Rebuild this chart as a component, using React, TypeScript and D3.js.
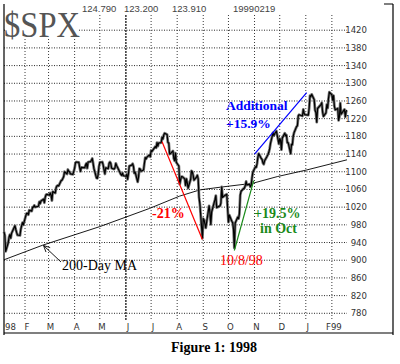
import React, { useEffect, useRef } from "react";
import * as d3 from "d3";

// daily S&P 500 closes, [day of month, close]
const jan98 = [[7, 964], [8, 956], [9, 920], [12, 939], [13, 952], [14, 958], [15, 950], [16, 961], [20, 978], [21, 970], [22, 963], [23, 957], [26, 956], [27, 970], [28, 978], [29, 985], [30, 980]];
const feb98 = [[2, 1001], [3, 1006], [4, 1006], [5, 1003], [6, 1013], [9, 1011], [10, 1020], [11, 1020], [12, 1024], [13, 1020], [17, 1022], [18, 1032], [19, 1028], [20, 1034], [23, 1038], [24, 1030], [25, 1042], [26, 1048], [27, 1049]];
const mar98 = [[2, 1047], [3, 1052], [4, 1047], [5, 1035], [6, 1055], [9, 1052], [10, 1064], [11, 1068], [12, 1069], [13, 1068], [16, 1080], [17, 1081], [18, 1085], [19, 1089], [20, 1100], [23, 1095], [24, 1105], [25, 1101], [26, 1100], [27, 1095], [30, 1094], [31, 1101]];
const apr98 = [[1, 1108], [2, 1120], [3, 1122], [6, 1121], [7, 1110], [8, 1101], [9, 1110], [13, 1109], [14, 1115], [15, 1119], [16, 1108], [17, 1122], [20, 1123], [21, 1126], [22, 1130], [23, 1119], [24, 1107], [27, 1086], [28, 1085], [29, 1094], [30, 1112]];
const may98 = [[1, 1121], [4, 1122], [5, 1115], [6, 1104], [7, 1095], [8, 1109], [11, 1107], [12, 1119], [13, 1122], [14, 1119], [15, 1108], [18, 1106], [19, 1109], [20, 1119], [21, 1114], [22, 1110], [26, 1094], [27, 1092], [28, 1097], [29, 1091]];
const jun98 = [[1, 1090], [2, 1094], [3, 1083], [4, 1095], [5, 1113], [8, 1115], [9, 1118], [10, 1112], [11, 1097], [12, 1099], [15, 1077], [16, 1088], [17, 1107], [18, 1106], [19, 1101], [22, 1104], [23, 1119], [24, 1132], [25, 1129], [26, 1133], [29, 1138], [30, 1134]];
const jul98 = [[1, 1148], [2, 1146], [6, 1157], [7, 1154], [8, 1166], [9, 1158], [10, 1165], [13, 1166], [14, 1178], [15, 1174], [16, 1183], [17, 1187], [20, 1184], [21, 1166], [22, 1165], [23, 1140], [24, 1141], [27, 1147], [28, 1130], [29, 1125], [30, 1142], [31, 1121]];
const aug98 = [[3, 1113], [4, 1072], [5, 1081], [6, 1089], [7, 1089], [10, 1084], [11, 1069], [12, 1084], [13, 1075], [14, 1063], [17, 1083], [18, 1102], [19, 1100], [20, 1092], [21, 1081], [24, 1088], [25, 1092], [26, 1084], [27, 1042], [28, 1027], [31, 950]];
const sep98 = [[1, 994], [2, 991], [3, 982], [4, 973], [8, 1023], [9, 1007], [10, 981], [11, 1009], [14, 1030], [15, 1037], [16, 1046], [17, 1019], [18, 1020], [21, 1023], [22, 1029], [23, 1066], [24, 1042], [25, 1044], [28, 1048], [29, 1049], [30, 1017]];
const oct98 = [[1, 986], [2, 1002], [5, 988], [6, 985], [7, 970], [8, 928], [9, 984], [12, 997], [13, 994], [14, 1005], [15, 1047], [16, 1056], [19, 1062], [20, 1063], [21, 1069], [22, 1078], [23, 1070], [26, 1072], [27, 1066], [28, 1069], [29, 1086], [30, 1099]];
const nov98 = [[2, 1111], [3, 1110], [4, 1118], [5, 1133], [6, 1141], [9, 1130], [10, 1128], [11, 1120], [12, 1117], [13, 1125], [16, 1135], [17, 1139], [18, 1144], [19, 1152], [20, 1164], [23, 1188], [24, 1182], [25, 1186], [27, 1192], [30, 1163]];
const dec98 = [[1, 1175], [2, 1171], [3, 1150], [4, 1176], [7, 1187], [8, 1181], [9, 1183], [10, 1166], [11, 1166], [14, 1141], [15, 1162], [16, 1161], [17, 1180], [18, 1188], [21, 1202], [22, 1204], [23, 1226], [24, 1229], [28, 1226], [29, 1241], [30, 1232], [31, 1229]];
const jan99 = [[4, 1228], [5, 1244], [6, 1272], [7, 1270], [8, 1275], [11, 1263], [12, 1239], [13, 1234], [14, 1212], [15, 1243], [19, 1252], [20, 1256], [21, 1235], [22, 1225], [25, 1233], [26, 1252], [27, 1244], [28, 1266], [29, 1280]];
const feb99 = [[1, 1274], [2, 1262], [3, 1272], [4, 1248], [5, 1240], [8, 1243], [9, 1216], [10, 1224], [11, 1255], [12, 1230], [16, 1241], [17, 1224], [18, 1237], [19, 1239]];

const monthBlocks: [number, number, number[][]][] = [
  [1998, 0, jan98], [1998, 1, feb98], [1998, 2, mar98], [1998, 3, apr98],
  [1998, 4, may98], [1998, 5, jun98], [1998, 6, jul98], [1998, 7, aug98],
  [1998, 8, sep98], [1998, 9, oct98], [1998, 10, nov98], [1998, 11, dec98],
  [1999, 0, jan99], [1999, 1, feb99],
];

// 200-day moving average
const maDates = ["1998-01-07", "1998-02-22", "1998-05-01", "1998-06-29", "1998-08-04", "1998-08-28", "1998-09-21", "1998-10-30", "1998-11-28", "1999-01-02", "1999-02-19"];
const maValues = [901, 934, 976, 1017, 1045, 1059, 1065, 1074, 1089, 1104, 1127];

const yTickValues = [780, 820, 860, 900, 940, 980, 1020, 1060, 1100, 1140, 1180, 1220, 1260, 1300, 1340, 1380, 1420];
const monthLabels = ["98", "F", "M", "A", "M", "J", "J", "A", "S", "O", "N", "D", "J", "F99"];
const headerValues = ["124.790", "123.200", "123.910", "19990219"];

const redLine = [["1998-07-14", 1168], ["1998-08-31", 947]];
const greenLine = [["1998-10-08", 922], ["1998-10-31", 1080]];
const blueLine = [["1998-11-01", 1140], ["1999-01-02", 1279]];

const parse = d3.timeParse("%Y-%m-%d");
const small = "'Liberation Sans Narrow', 'Arial Narrow', 'DejaVu Sans Condensed', sans-serif";
const serif = "'Liberation Serif', 'Times New Roman', serif";

export default function App() {
  const ref = useRef<SVGSVGElement>(null);

  useEffect(() => {
    const svg = d3.select(ref.current);
    svg.selectAll("*").remove();

    const x = d3.scaleTime()
      .domain([new Date(1998, 0, 7), new Date(1999, 1, 19)])
      .range([4, 347]);
    const y = d3.scaleLinear().domain([780, 1420]).range([313.3, 30.2]);

    const prices = monthBlocks.flatMap(([yr, m, rows]) =>
      rows.map(([d, c]) => ({ date: new Date(yr, m, d), close: c })));
    const ma = maDates.map((d, i) => ({ date: parse(d)!, close: maValues[i] }));

    // grid
    const grid = svg.append("g");
    const monthTicks = d3.timeMonth.range(new Date(1998, 1, 1), new Date(1999, 1, 2));
    grid.selectAll(".vgrid")
      .data(monthTicks)
      .join("line")
      .attr("x1", d => x(d)).attr("x2", d => x(d))
      .attr("y1", 15).attr("y2", 320)
      .attr("stroke", d => d.getMonth() === 5 ? "#000" : "#222")
      .attr("stroke-width", d => d.getMonth() === 5 ? 1.2 : 0.9)
      .attr("stroke-dasharray", d => d.getMonth() === 5 ? "2 1" : "1 2");
    grid.selectAll(".hgrid")
      .data(yTickValues)
      .join("line")
      .attr("x1", 4).attr("x2", 347)
      .attr("y1", d => y(d)).attr("y2", d => y(d))
      .attr("stroke", "#111")
      .attr("stroke-width", 0.9)
      .attr("stroke-dasharray", "1 1.5");

    // frame
    svg.append("path")
      .attr("d", "M4,4V335 M4,333H393 M393,335V4 M384,4H393")
      .attr("fill", "none")
      .attr("stroke", "#000")
      .attr("stroke-width", 1.2);

    // title box
    svg.append("rect").attr("x", 5).attr("y", 3).attr("width", 73).attr("height", 36).attr("fill", "#fff");
    svg.append("text")
      .attr("x", 4).attr("y", 37)
      .attr("font-family", serif)
      .attr("font-size", 35)
      .attr("textLength", 76)
      .attr("lengthAdjust", "spacingAndGlyphs")
      .attr("fill", "#555")
      .text("$SPX");

    const headerX = [82, 124, 172, 233];
    svg.selectAll(".hdr")
      .data(headerValues)
      .join("text")
      .attr("x", (d, i) => headerX[i]).attr("y", 12)
      .attr("font-family", "'Liberation Sans', Arial, sans-serif").attr("font-size", 9.5)
      .attr("fill", "#444")
      .text(d => d);

    // y labels
    svg.selectAll(".ylab")
      .data(yTickValues)
      .join("text")
      .attr("x", 367).attr("y", d => y(d) + 3)
      .attr("text-anchor", "end")
      .attr("font-family", small).attr("font-size", 9.5)
      .attr("fill", "#333")
      .text(d => d);

    // month labels
    const labelDates = [new Date(1998, 0, 7), ...monthTicks];
    svg.selectAll(".xlab")
      .data(labelDates)
      .join("text")
      .attr("x", (d, i) => i === 0 ? 5 : x(d) + 2)
      .attr("y", 330)
      .attr("text-anchor", (d, i) => i === 0 ? "start" : "middle")
      .attr("font-family", small).attr("font-size", 9.5)
      .attr("fill", "#333")
      .text((d, i) => monthLabels[i]);

    const line = d3.line<{ date: Date; close: number }>()
      .x(d => x(d.date))
      .y(d => y(d.close));

    // moving average
    svg.append("path").datum(ma)
      .attr("d", line)
      .attr("fill", "none").attr("stroke", "#000").attr("stroke-width", 0.9);

    // price
    svg.append("path").datum(prices)
      .attr("d", line)
      .attr("fill", "none").attr("stroke", "#777").attr("stroke-width", 2.8)
      .attr("stroke-linejoin", "round");
    svg.append("path").datum(prices)
      .attr("d", line)
      .attr("fill", "none").attr("stroke", "#000").attr("stroke-width", 1.2)
      .attr("stroke-linejoin", "round");

    // trend annotations
    const seg = (pts: (string | number)[][], color: string) => {
      svg.append("line")
        .attr("x1", x(parse(pts[0][0] as string)!)).attr("y1", y(pts[0][1] as number))
        .attr("x2", x(parse(pts[1][0] as string)!)).attr("y2", y(pts[1][1] as number))
        .attr("stroke", color).attr("stroke-width", 1.2);
    };
    seg(redLine, "#f00");
    seg(greenLine, "#1a8a1a");
    seg(blueLine, "#00f");

    const label = (t: string, lx: number, ly: number, color: string, bold: boolean, size = 14) => {
      svg.append("text")
        .attr("x", lx).attr("y", ly)
        .attr("font-family", serif)
        .attr("font-size", size)
        .attr("font-weight", bold ? "bold" : "normal")
        .attr("fill", color)
        .text(t);
    };
    label("-21%", 152, 218, "#f00", true);
    label("+19.5%", 254, 218, "#1a8a1a", true);
    label("in Oct", 260, 233, "#1a8a1a", true);
    label("10/8/98", 220, 265, "#f00", false);
    label("Additional", 226, 110, "#00f", true, 13.5);
    label("+15.9%", 226, 128, "#00f", true, 13.5);
    label("200-Day MA", 62, 270, "#000", false);

    // arrow to the MA line
    const tip = [43.5, 245.5], tail = [61, 262];
    const ang = Math.atan2(tail[1] - tip[1], tail[0] - tip[0]);
    const wing = (a: number) => [tip[0] + 7 * Math.cos(ang + a), tip[1] + 7 * Math.sin(ang + a)];
    const w1 = wing(0.45), w2 = wing(-0.45);
    svg.append("path")
      .attr("d", `M${tail[0]},${tail[1]}L${tip[0]},${tip[1]} M${w1[0]},${w1[1]}L${tip[0]},${tip[1]}L${w2[0]},${w2[1]}`)
      .attr("fill", "none").attr("stroke", "#000").attr("stroke-width", 0.9);

    // caption
    svg.append("text")
      .attr("x", 214).attr("y", 352)
      .attr("text-anchor", "middle")
      .attr("font-family", serif)
      .attr("font-size", 14)
      .attr("font-weight", "bold")
      .attr("fill", "#000")
      .text("Figure 1: 1998");
  }, []);

  return (
    <svg ref={ref} width={400} height={364}
      style={{ position: "absolute", left: 0, top: 0, background: "#fff" }} />
  );
}
